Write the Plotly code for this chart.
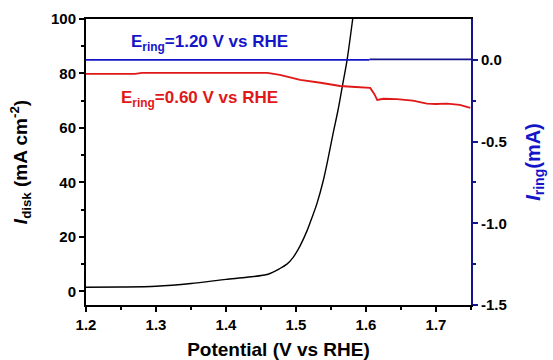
import plotly.graph_objects as go

# Disk current (black), mA cm^-2 vs potential (V vs RHE)
disk_potential = [1.20, 1.25, 1.30, 1.35, 1.40, 1.43, 1.46, 1.477, 1.487, 1.496, 1.506, 1.516, 1.523, 1.530, 1.539, 1.546, 1.553, 1.560, 1.566, 1.573, 1.581]
disk_current = [1.5, 1.6, 1.9, 2.9, 4.4, 5.2, 6.3, 8.4, 10.0, 12.5, 16.8, 22.4, 27.2, 32.3, 40.7, 49.0, 58.0, 66.5, 75.0, 85.0, 100.0]

# Ring current at E_ring = 1.20 V (blue), mA
ring120_potential = [1.20, 1.40, 1.605]
ring120_current = [0.0, 0.0, 0.0]
ring120b_potential = [1.605, 1.75]
ring120b_current = [0.003, 0.003]

# Ring current at E_ring = 0.60 V (red), mA
ring060_potential = [1.20, 1.27, 1.28, 1.35, 1.42, 1.459, 1.477, 1.506, 1.535, 1.563, 1.585, 1.606, 1.612, 1.616, 1.625, 1.644, 1.667, 1.687, 1.700, 1.716, 1.734, 1.749]
ring060_current = [-0.086, -0.086, -0.080, -0.080, -0.080, -0.080, -0.092, -0.123, -0.140, -0.160, -0.166, -0.172, -0.210, -0.245, -0.238, -0.240, -0.250, -0.268, -0.270, -0.268, -0.276, -0.294]

x_ticks = [1.2, 1.3, 1.4, 1.5, 1.6, 1.7]
y1_ticks = [0, 20, 40, 60, 80, 100]
y2_ticks = [-1.5, -1.0, -0.5, 0.0]
y2_labels = ["-1.5", "-1.0", "-0.5", "0.0"]

FONT = "Liberation Sans, Arial, sans-serif"
BLUE = "#1414c8"
NAVY = "#14148c"
RED = "#e01818"

L, R, T, B = 86, 82, 19, 55
W, H = 553, 360
pw, ph = W - L - R, H - T - B


def px_to_paper(xp, yp):
    return (xp - L) / pw, (H - yp - B) / ph


fig = go.Figure()
fig.add_trace(go.Scatter(x=ring120_potential, y=ring120_current, mode="lines",
                         line=dict(color=BLUE, width=1.6), yaxis="y2", showlegend=False))
fig.add_trace(go.Scatter(x=ring120b_potential, y=ring120b_current, mode="lines",
                         line=dict(color=NAVY, width=1.6), yaxis="y2", showlegend=False))
fig.add_trace(go.Scatter(x=ring060_potential, y=ring060_current, mode="lines",
                         line=dict(color=RED, width=1.8), yaxis="y2", showlegend=False))
fig.add_trace(go.Scatter(x=disk_potential, y=disk_current, mode="lines",
                         line=dict(color="black", width=1.4, shape="spline", smoothing=0.8), showlegend=False))

ax1, ay1 = px_to_paper(209, 43)
ax2, ay2 = px_to_paper(199, 99)

fig.update_layout(
    width=W, height=H,
    margin=dict(l=L, r=R, t=T, b=B, autoexpand=False),
    paper_bgcolor="white", plot_bgcolor="white",
    font=dict(family=FONT, size=15, color="black"),
    xaxis=dict(range=[1.2, 1.75], tickvals=x_ticks, ticktext=[f"{v:.1f}" for v in x_ticks],
               showline=True, linecolor="black", linewidth=2, mirror=True,
               ticks="outside", ticklen=5, tickwidth=1.5, tickcolor="black",
               minor=dict(dtick=0.05, ticks="outside", ticklen=3, tickcolor="black", tickwidth=1.5),
               showgrid=False, zeroline=False, automargin=False,
               tickfont=dict(family=FONT, size=15, color="black", weight="bold"),
               title=dict(text="<b>Potential (V vs RHE)</b>", font=dict(family=FONT, size=19), standoff=12)),
    yaxis=dict(range=[-5, 100], tickvals=y1_ticks,
               showline=True, linecolor="black", linewidth=2,
               ticks="outside", ticklen=5, tickwidth=1.5, tickcolor="black",
               minor=dict(dtick=10, ticks="outside", ticklen=3, tickcolor="black", tickwidth=1.5),
               showgrid=False, zeroline=False, automargin=False,
               tickfont=dict(family=FONT, size=15, color="black", weight="bold"),
               title=dict(text="<b><i>I</i><sub>disk</sub> (mA cm<sup>-2</sup>)</b>",
                          font=dict(family=FONT, size=19), standoff=18)),
    yaxis2=dict(range=[-1.5, 0.25], overlaying="y", side="right", anchor="x",
                tickvals=y2_ticks, ticktext=y2_labels,
                showline=True, linecolor=NAVY, linewidth=2,
                ticks="outside", ticklen=5, tickwidth=1.5, tickcolor=NAVY,
                minor=dict(tickvals=[-1.25, -0.75, -0.25], ticks="outside", ticklen=3, tickcolor=NAVY, tickwidth=1.5),
                showgrid=False, zeroline=False, automargin=False,
                tickfont=dict(family=FONT, size=15, color="black", weight="bold"),
                title=dict(text="<b><i>I</i><sub>ring</sub>(mA)</b>",
                           font=dict(family=FONT, size=20, color=BLUE), standoff=20)),
    annotations=[
        dict(text="<b>E<sub>ring</sub>=1.20 V vs RHE</b>", x=ax1, y=ay1, xref="paper", yref="paper",
             xanchor="center", yanchor="middle",
             showarrow=False, font=dict(family=FONT, size=17, color=BLUE)),
        dict(text="<b>E<sub>ring</sub>=0.60 V vs RHE</b>", x=ax2, y=ay2, xref="paper", yref="paper",
             xanchor="center", yanchor="middle",
             showarrow=False, font=dict(family=FONT, size=17, color=RED)),
    ],
)

fig.write_html("out.html")
